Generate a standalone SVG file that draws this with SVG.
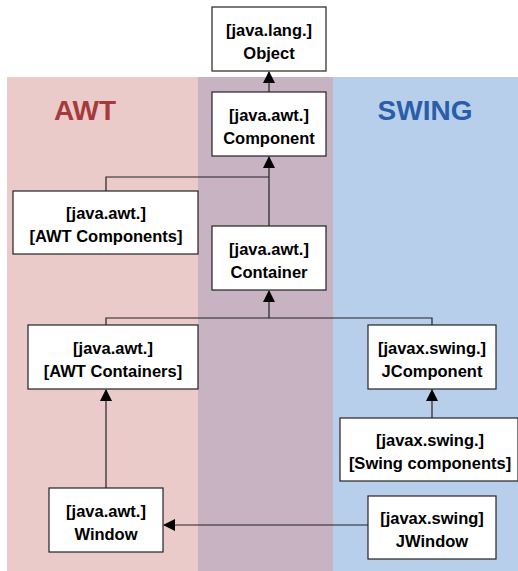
<svg xmlns="http://www.w3.org/2000/svg" width="518" height="571" viewBox="0 0 518 571">
<style>
.box{fill:#fff;stroke:#222;stroke-width:1.2}
.t{font-family:"Liberation Sans",Arial,sans-serif;font-weight:bold;font-size:16.5px;text-anchor:middle;fill:#000}
.big{font-family:"Liberation Sans",Arial,sans-serif;font-weight:bold;font-size:28px;text-anchor:middle}
.c{fill:none;stroke:#222;stroke-width:1.2}
</style>
<defs>
<marker id="ah" markerWidth="12" markerHeight="12" refX="11" refY="6" orient="auto" markerUnits="userSpaceOnUse">
<path d="M0,0 L12,6 L0,12 Z" fill="#000"/>
</marker>
</defs>
<g id="lanes">
<rect x="7" y="77" width="191" height="494" fill="#EBCACA"/>
<rect x="198" y="77" width="135" height="494" fill="#C8B3C2"/>
<rect x="333" y="77" width="185" height="494" fill="#B8CFEC"/>
<text class="big" x="85" y="120" fill="#A63A3A">AWT</text>
<text class="big" x="425" y="120" fill="#2A5EA8">SWING</text>
</g>
<g id="connectors">
<path class="c" d="M269,92 V72" marker-end="url(#ah)"/>
<path class="c" d="M106,191 V177 H269"/>
<path class="c" d="M269,226 V157" marker-end="url(#ah)"/>
<path class="c" d="M106,325 V318 H432 V325"/>
<path class="c" d="M269,318 V291" marker-end="url(#ah)"/>
<path class="c" d="M432,418 V390" marker-end="url(#ah)"/>
<path class="c" d="M106,488 V390" marker-end="url(#ah)"/>
<path class="c" d="M368,525 H164" marker-end="url(#ah)"/>
</g>
<g id="object">
<rect class="box" x="212" y="7" width="114" height="64"/>
<text class="t" x="269" y="36">[java.lang.]</text>
<text class="t" x="269" y="59">Object</text>
</g>
<g id="component">
<rect class="box" x="212" y="92" width="114" height="64"/>
<text class="t" x="269" y="121">[java.awt.]</text>
<text class="t" x="269" y="144">Component</text>
</g>
<g id="awtcomponents">
<rect class="box" x="13" y="191" width="185" height="63"/>
<text class="t" x="106" y="219">[java.awt.]</text>
<text class="t" x="106" y="242">[AWT Components]</text>
</g>
<g id="container">
<rect class="box" x="212" y="226" width="114" height="64"/>
<text class="t" x="269" y="255">[java.awt.]</text>
<text class="t" x="269" y="278">Container</text>
</g>
<g id="awtcontainers">
<rect class="box" x="28" y="325" width="170" height="64"/>
<text class="t" x="113" y="354">[java.awt.]</text>
<text class="t" x="113" y="377">[AWT Containers]</text>
</g>
<g id="jcomponent">
<rect class="box" x="368" y="325" width="128" height="64"/>
<text class="t" x="432" y="354">[javax.swing.]</text>
<text class="t" x="432" y="377">JComponent</text>
</g>
<g id="swingcomponents">
<rect class="box" x="340" y="418" width="178" height="63"/>
<text class="t" x="430" y="446">[javax.swing.]</text>
<text class="t" x="430" y="469">[Swing components]</text>
</g>
<g id="window">
<rect class="box" x="49" y="488" width="114" height="64"/>
<text class="t" x="106" y="517">[java.awt.]</text>
<text class="t" x="106" y="540">Window</text>
</g>
<g id="jwindow">
<rect class="box" x="368" y="496" width="128" height="63"/>
<text class="t" x="432" y="524">[javax.swing]</text>
<text class="t" x="432" y="547">JWindow</text>
</g>
</svg>
